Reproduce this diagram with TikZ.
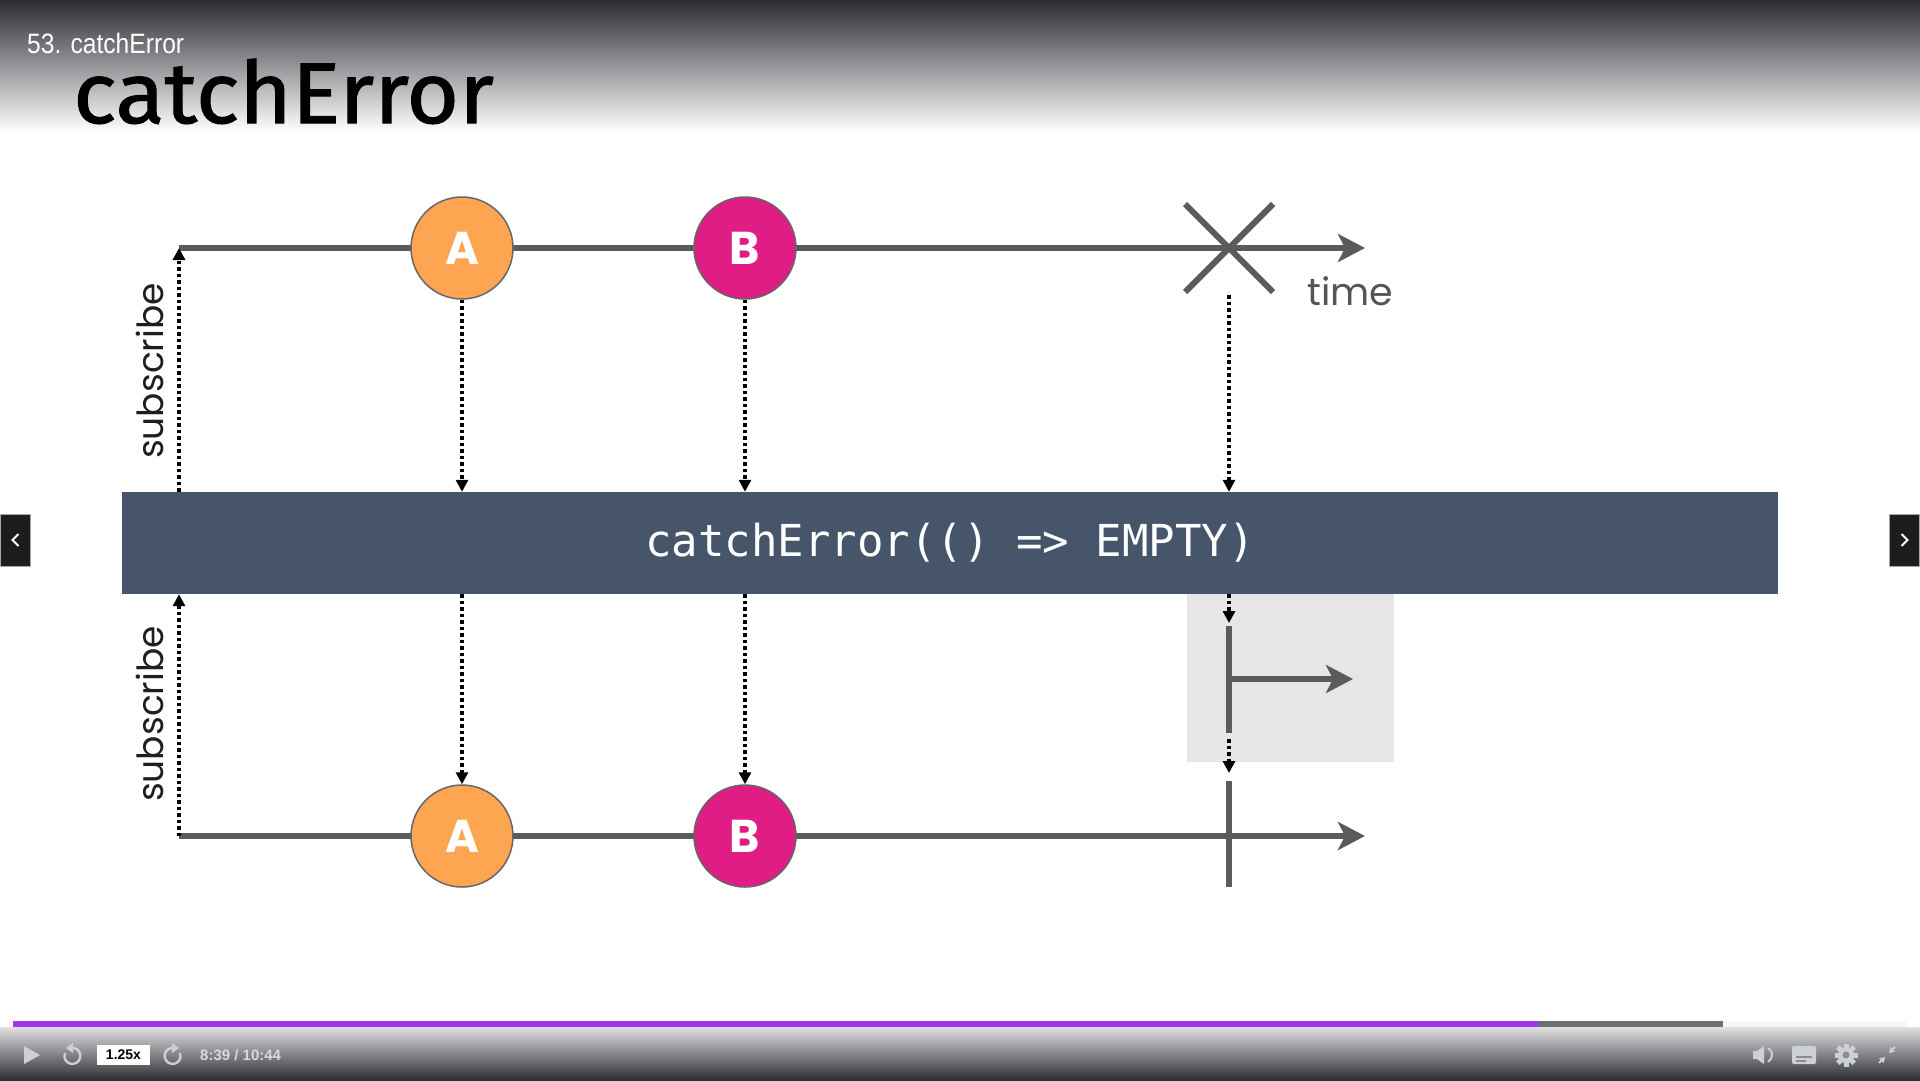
\documentclass[tikz,border=0pt]{standalone}
\usepackage{fontspec}
\setmainfont{Poppins}
\newfontfamily\codefont{DejaVu Sans Mono}
\newfontfamily\headfont[FakeBold=1.2]{Fira Sans}
\newfontfamily\uifont{Liberation Sans}
\usetikzlibrary{arrows.meta,positioning,calc}
\definecolor{axisgray}{HTML}{5B5B5B}
\definecolor{rimgray}{HTML}{676767}
\definecolor{marbleA}{HTML}{FDA550}
\definecolor{marbleB}{HTML}{DF1D84}
\definecolor{opblue}{HTML}{46556A}
\definecolor{catchgray}{HTML}{E6E6E6}
\definecolor{timegray}{HTML}{555555}
\definecolor{headdark}{HTML}{2B2D32}
\definecolor{barpurple}{HTML}{A335EE}
\definecolor{bargray}{HTML}{6B6F73}
\definecolor{uilight}{HTML}{CDD0D5}
\definecolor{navdark}{HTML}{1C1D1F}

\begin{document}
\begin{tikzpicture}[x=1pt,y=-1pt,
  axis/.style={draw=axisgray,line width=6pt},
  axisarrow/.style={axis,-{Stealth[length=27pt,width=28pt,inset=7pt]}},
  emit/.style={draw=black,line width=3.5pt,dash pattern=on 3.5pt off 3pt,-{Triangle[length=12pt,width=12pt]}},
  marble/.style={circle,draw=rimgray,line width=1.5pt,minimum size=102pt,inner sep=0pt,text=white,font=\bfseries\fontsize{46}{46}\selectfont},
  subs/.style={rotate=90,text=black!88,font=\fontsize{36}{36}\selectfont},
  navbtn/.style={fill=navdark,draw=gray!70,line width=1pt,minimum width=30pt,minimum height=52pt,inner sep=0pt}]

\useasboundingbox (0,0) rectangle (1920,1080);
\fill[white] (0,0) rectangle (1920,1080);

%header
\shade[top color=headdark,bottom color=white] (0,0) rectangle (1920,132);
\node[anchor=base west,text=white,font=\uifont\fontsize{28}{28}\selectfont,xscale=0.88,inner sep=0pt] (lecture) at (27,53) {53. catchError};
\node[anchor=base west,text=black,font=\headfont\fontsize{86}{86}\selectfont,xscale=1.05,inner sep=0pt] (title) at (73,123) {catchError};

%source stream
\coordinate (s1) at (179,248);
\coordinate (e1) at (1365,248);
\coordinate (err) at (1229,248);
\draw[axisarrow] (s1) -- (e1);
\draw[axis] ($(err)+(-44,-44)$) -- ($(err)+(44,44)$);
\draw[axis] ($(err)+(-44,44)$) -- ($(err)+(44,-44)$);
\node[marble,fill=marbleA] (A1) at (462,248) {A};
\node[marble,fill=marbleB] (B1) at (745,248) {B};
\node[anchor=base west,text=timegray,font=\fontsize{38}{38}\selectfont,inner sep=0pt] (time) at (1307,305) {time};

%operator
\node[fill=opblue,minimum width=1656pt,minimum height=102pt,inner sep=0pt,text=white,font=\codefont\fontsize{44}{44}\selectfont] (op) at (950,543) {\raisebox{-3pt}{catchError(() => EMPTY)}};

\draw[emit] (A1.south) -- (A1 |- op.north);
\draw[emit] (B1.south) -- (B1 |- op.north);
\draw[emit] ($(err)+(0,47)$) -- (err |- op.north);
\draw[emit] (op.north -| s1) -- (s1);
\node[subs] (sub1) at (150,371) {subscribe};

%catch
\node[fill=catchgray,minimum width=207pt,minimum height=168pt,inner sep=0pt,anchor=north west] (catchbox) at (1187,594) {};
\coordinate (v1top) at (1229,626);
\coordinate (v1bot) at (1229,733);
\coordinate (h1) at (1229,679);
\coordinate (h1end) at (1353,679);
\draw[emit] (op.south -| err) -- (1229,623);
\draw[axis] (v1top) -- (v1bot);
\draw[axisarrow] (h1) -- (h1end);
\draw[emit] (1229,739) -- (1229,773);

%output stream
\coordinate (s2) at (179,836);
\coordinate (e2) at (1365,836);
\draw[axisarrow] (s2) -- (e2);
\draw[axis] (1229,781) -- (1229,887);
\node[marble,fill=marbleA] (A2) at (462,836) {A};
\node[marble,fill=marbleB] (B2) at (745,836) {B};
\draw[emit] (A1 |- op.south) -- (A2.north);
\draw[emit] (B1 |- op.south) -- (B2.north);
\draw[emit] (s2) -- (op.south -| s2);
\node[subs] (sub2) at (150,714) {subscribe};

%nav buttons
\node[navbtn,anchor=west] (prev) at (0,540) {};
\draw[white,line width=2pt] ($(prev)+(3,-6)$) -- ($(prev)+(-3,0)$) -- ($(prev)+(3,6)$);
\node[navbtn,anchor=east] (next) at (1920,540) {};
\draw[white,line width=2pt] ($(next)+(-3,-6)$) -- ($(next)+(3,0)$) -- ($(next)+(-3,6)$);

%player bar
\shade[top color=black!12,bottom color=headdark] (0,1027) rectangle (1920,1080);
\fill[barpurple] (13,1021) rectangle (1538,1027);
\fill[bargray] (1538,1021) rectangle (1723,1027);
\fill[black!3] (1723,1021) rectangle (1907,1027);

\coordinate (play) at (32,1055);
\fill[uilight] ($(play)+(-8,-9)$) -- ($(play)+(8,0)$) -- ($(play)+(-8,9)$) -- cycle;
\coordinate (back) at (73,1056);
\draw[uilight,line width=2.4pt] ($(back)+(-2,-8)$) arc[start angle=-100,end angle=200,radius=8];
\fill[uilight] ($(back)+(-7,-8)$) -- ($(back)+(0,-13)$) -- ($(back)+(0,-3)$) -- cycle;
\node[fill=white,minimum width=53pt,minimum height=20pt,inner sep=0pt,font=\uifont\bfseries\fontsize{14}{14}\selectfont] (speed) at (123.5,1055) {1.25x};
\coordinate (fwd) at (172,1056);
\draw[uilight,line width=2.4pt] ($(fwd)+(2,-8)$) arc[start angle=-80,end angle=-380,radius=8];
\fill[uilight] ($(fwd)+(7,-8)$) -- ($(fwd)+(0,-13)$) -- ($(fwd)+(0,-3)$) -- cycle;
\node[anchor=west,inner sep=0pt,text=uilight!80!white,font=\uifont\bfseries\fontsize{15}{15}\selectfont] (clock) at (200,1055) {8:39 / 10:44};

\coordinate (vol) at (1762,1055);
\fill[uilight] ($(vol)+(-9,-4)$) rectangle ($(vol)+(-5,4)$);
\fill[uilight] ($(vol)+(-5,-4)$) -- ($(vol)+(2,-9)$) -- ($(vol)+(2,9)$) -- ($(vol)+(-5,4)$) -- cycle;
\draw[uilight,line width=2pt] ($(vol)+(6,-7)$) arc[start angle=-60,end angle=60,radius=8];
\coordinate (cc) at (1804,1055);
\fill[uilight,rounded corners=2pt] ($(cc)+(-12,-9)$) rectangle ($(cc)+(12,9)$);
\fill[black!45] ($(cc)+(-8,1)$) rectangle ($(cc)+(8,3)$);
\fill[black!45] ($(cc)+(-8,5)$) rectangle ($(cc)+(2,7)$);
\coordinate (gear) at (1846,1055);
\fill[uilight] (gear) circle (8);
\foreach \a in {0,45,...,315}
  \fill[uilight,rotate around={\a:(gear)}] ($(gear)+(-2.5,-11.5)$) rectangle ($(gear)+(2.5,-5)$);
\fill[black!45] (gear) circle (3.5);
\coordinate (mini) at (1887,1055);
\draw[uilight,line width=2pt,-{Triangle[length=5pt,width=6pt]}] ($(mini)+(-8,8)$) -- ($(mini)+(-2,2)$);
\draw[uilight,line width=2pt,-{Triangle[length=5pt,width=6pt]}] ($(mini)+(8,-8)$) -- ($(mini)+(2,-2)$);
\end{tikzpicture}
\end{document}
